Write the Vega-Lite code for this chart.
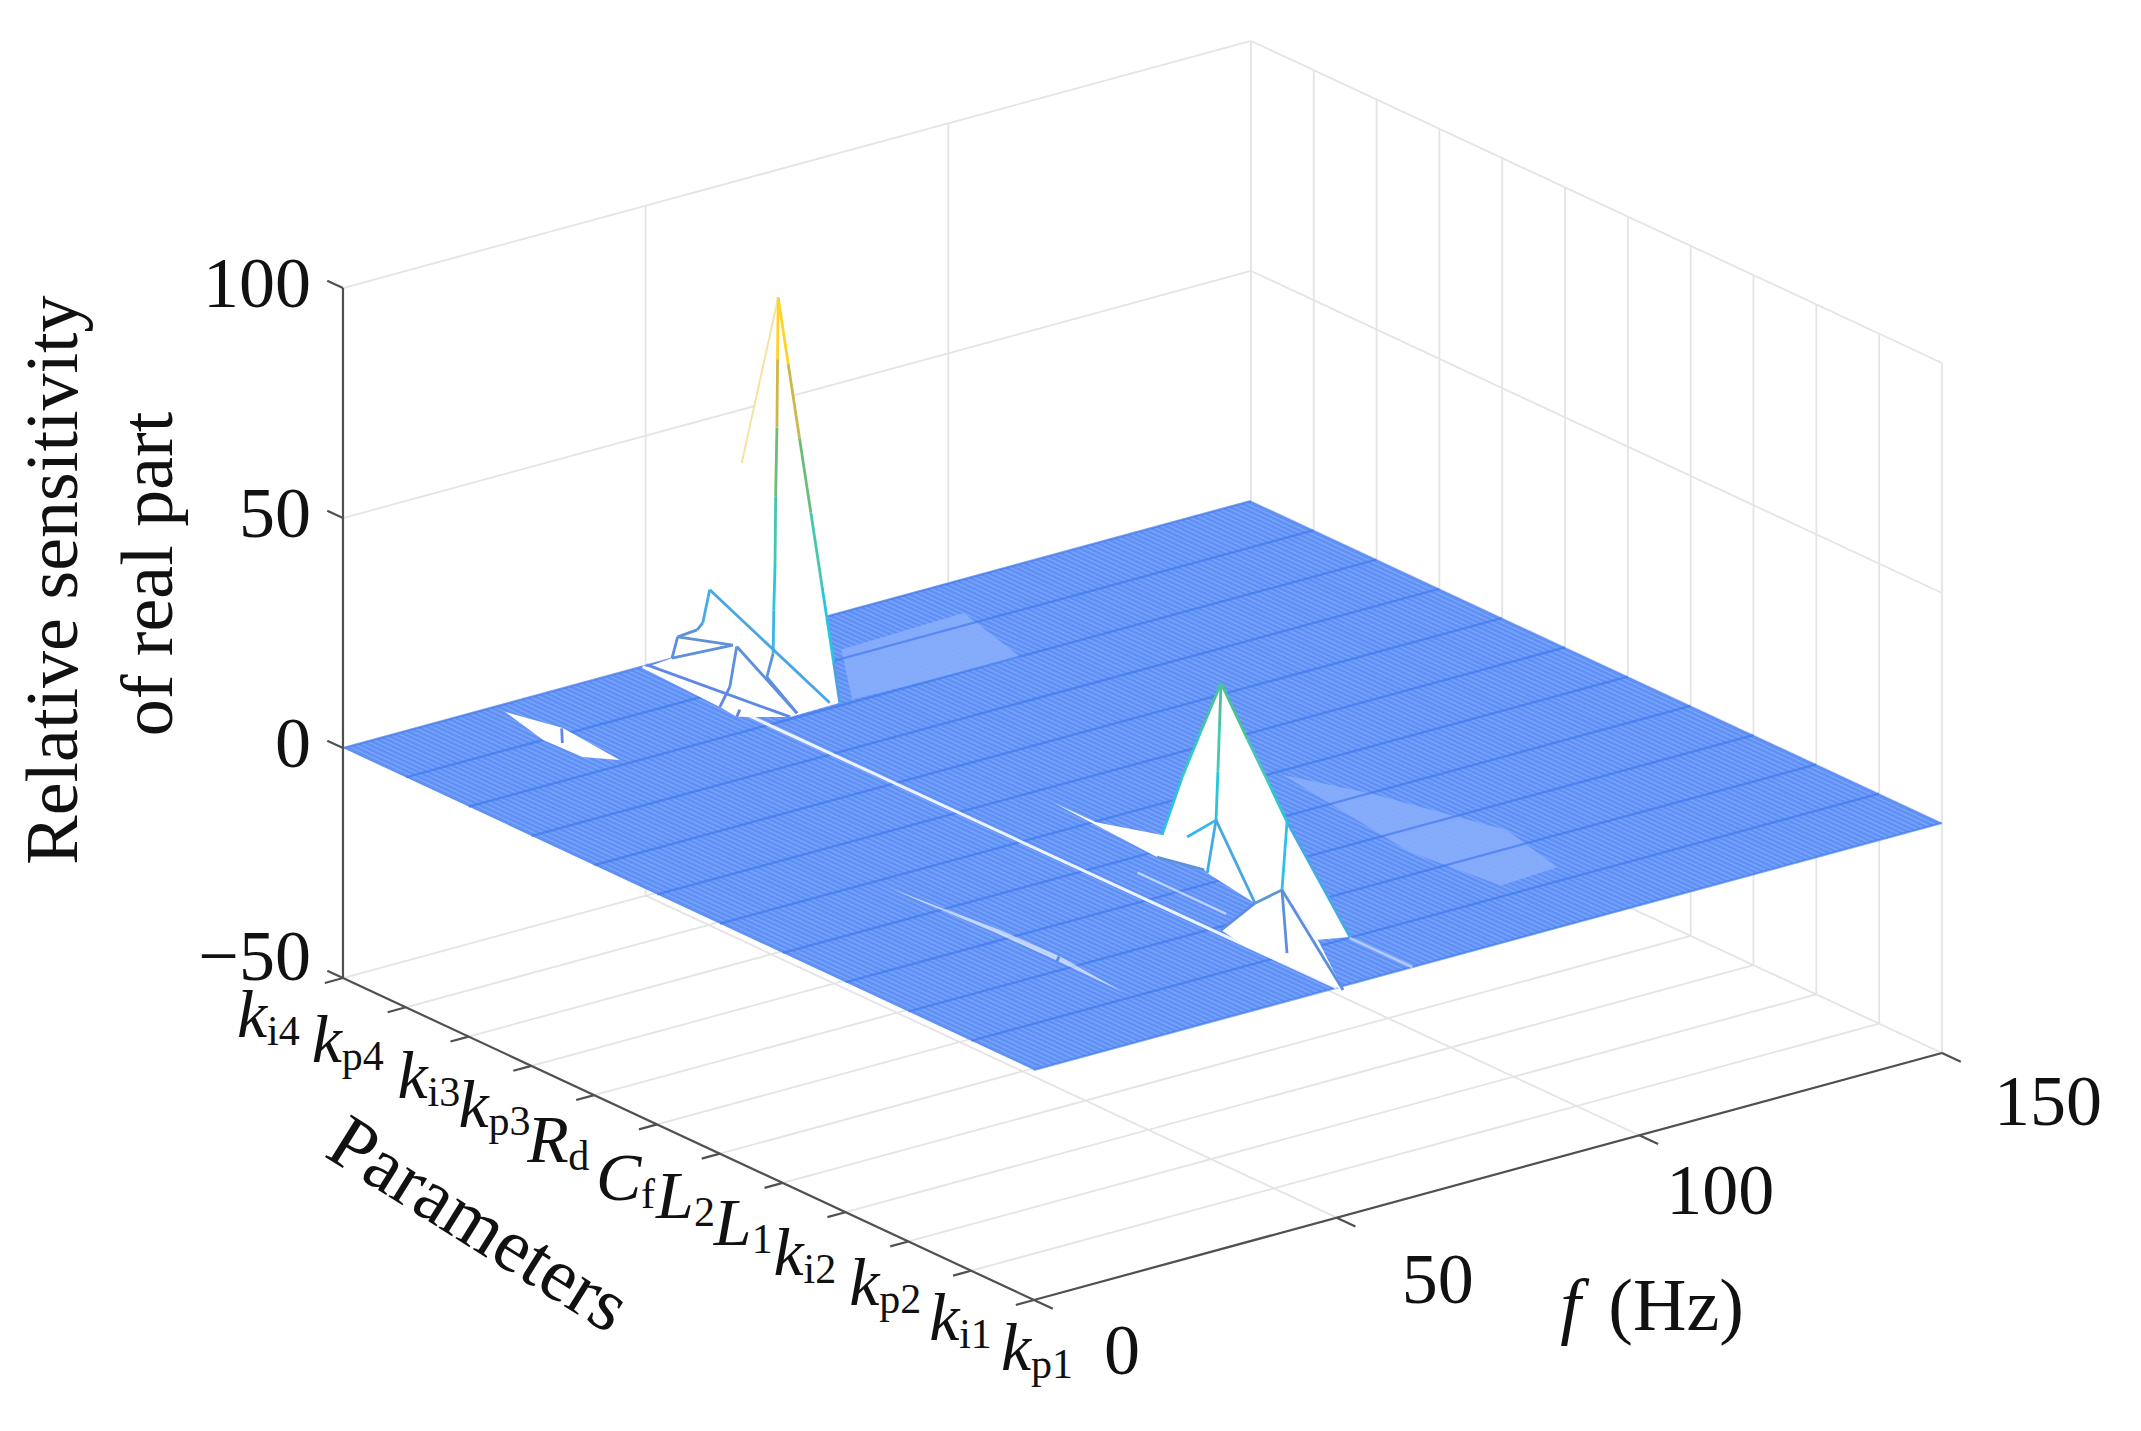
{"$schema":"https://vega.github.io/schema/vega-lite/v6.json","width":2141,"height":1431,"autosize":{"type":"fit","contains":"padding"},"padding":0,"background":"white","config":{"view":{"stroke":null}},
"data":{"values":[
{"s":"g","p":1,"f":0,"z":-50,"p2":1,"f2":150,"z2":-50},{"s":"g","p":2,"f":0,"z":-50,"p2":2,"f2":150,"z2":-50},{"s":"g","p":3,"f":0,"z":-50,"p2":3,"f2":150,"z2":-50},{"s":"g","p":4,"f":0,"z":-50,"p2":4,"f2":150,"z2":-50},{"s":"g","p":5,"f":0,"z":-50,"p2":5,"f2":150,"z2":-50},{"s":"g","p":6,"f":0,"z":-50,"p2":6,"f2":150,"z2":-50},{"s":"g","p":7,"f":0,"z":-50,"p2":7,"f2":150,"z2":-50},{"s":"g","p":8,"f":0,"z":-50,"p2":8,"f2":150,"z2":-50},{"s":"g","p":9,"f":0,"z":-50,"p2":9,"f2":150,"z2":-50},{"s":"g","p":10,"f":0,"z":-50,"p2":10,"f2":150,"z2":-50},{"s":"g","p":11,"f":0,"z":-50,"p2":11,"f2":150,"z2":-50},{"s":"g","p":12,"f":0,"z":-50,"p2":12,"f2":150,"z2":-50},
{"s":"g","p":1,"f":50,"z":-50,"p2":12,"f2":50,"z2":-50},{"s":"g","p":1,"f":100,"z":-50,"p2":12,"f2":100,"z2":-50},{"s":"g","p":1,"f":150,"z":-50,"p2":12,"f2":150,"z2":-50},
{"s":"g","p":12,"f":0,"z":0,"p2":12,"f2":150,"z2":0},{"s":"g","p":12,"f":0,"z":50,"p2":12,"f2":150,"z2":50},{"s":"g","p":12,"f":0,"z":100,"p2":12,"f2":150,"z2":100},
{"s":"g","p":12,"f":50,"z":-50,"p2":12,"f2":50,"z2":100},{"s":"g","p":12,"f":100,"z":-50,"p2":12,"f2":100,"z2":100},{"s":"g","p":12,"f":150,"z":-50,"p2":12,"f2":150,"z2":100},
{"s":"g","p":1,"f":150,"z":0,"p2":12,"f2":150,"z2":0},{"s":"g","p":1,"f":150,"z":50,"p2":12,"f2":150,"z2":50},{"s":"g","p":1,"f":150,"z":100,"p2":12,"f2":150,"z2":100},
{"s":"g","p":1,"f":150,"z":-50,"p2":1,"f2":150,"z2":100},{"s":"g","p":2,"f":150,"z":-50,"p2":2,"f2":150,"z2":100},{"s":"g","p":3,"f":150,"z":-50,"p2":3,"f2":150,"z2":100},{"s":"g","p":4,"f":150,"z":-50,"p2":4,"f2":150,"z2":100},{"s":"g","p":5,"f":150,"z":-50,"p2":5,"f2":150,"z2":100},{"s":"g","p":6,"f":150,"z":-50,"p2":6,"f2":150,"z2":100},{"s":"g","p":7,"f":150,"z":-50,"p2":7,"f2":150,"z2":100},{"s":"g","p":8,"f":150,"z":-50,"p2":8,"f2":150,"z2":100},{"s":"g","p":9,"f":150,"z":-50,"p2":9,"f2":150,"z2":100},{"s":"g","p":10,"f":150,"z":-50,"p2":10,"f2":150,"z2":100},{"s":"g","p":11,"f":150,"z":-50,"p2":11,"f2":150,"z2":100},

{"s":"floor","p":1,"f":0,"z":0},{"s":"floor","p":1,"f":150,"z":0},{"s":"floor","p":12,"f":150,"z":0},{"s":"floor","p":12,"f":0,"z":0},

{"s":"patch","id":"a","p":11.2,"f":74,"z":0},{"s":"patch","id":"a","p":11.27,"f":95,"z":0},{"s":"patch","id":"a","p":9.97,"f":91,"z":0},{"s":"patch","id":"a","p":10.06,"f":64,"z":0},
{"s":"patch","id":"b","p":5.9,"f":92,"z":0},{"s":"patch","id":"b","p":5,"f":97,"z":0},{"s":"patch","id":"b","p":3.4,"f":103,"z":0},{"s":"patch","id":"b","p":2.3,"f":100,"z":0},{"s":"patch","id":"b","p":2.24,"f":90,"z":0},{"s":"patch","id":"b","p":3.5,"f":88,"z":0},

{"s":"h","p":1,"f":1,"z":0,"p2":12,"f2":1,"z2":0},{"s":"h","p":1,"f":2,"z":0,"p2":12,"f2":2,"z2":0},{"s":"h","p":1,"f":3,"z":0,"p2":12,"f2":3,"z2":0},{"s":"h","p":1,"f":4,"z":0,"p2":12,"f2":4,"z2":0},{"s":"h","p":1,"f":5,"z":0,"p2":12,"f2":5,"z2":0},{"s":"h","p":1,"f":6,"z":0,"p2":12,"f2":6,"z2":0},{"s":"h","p":1,"f":7,"z":0,"p2":12,"f2":7,"z2":0},{"s":"h","p":1,"f":8,"z":0,"p2":12,"f2":8,"z2":0},{"s":"h","p":1,"f":9,"z":0,"p2":12,"f2":9,"z2":0},{"s":"h","p":1,"f":10,"z":0,"p2":12,"f2":10,"z2":0},
{"s":"h","p":1,"f":11,"z":0,"p2":12,"f2":11,"z2":0},{"s":"h","p":1,"f":12,"z":0,"p2":12,"f2":12,"z2":0},{"s":"h","p":1,"f":13,"z":0,"p2":12,"f2":13,"z2":0},{"s":"h","p":1,"f":14,"z":0,"p2":12,"f2":14,"z2":0},{"s":"h","p":1,"f":15,"z":0,"p2":12,"f2":15,"z2":0},{"s":"h","p":1,"f":16,"z":0,"p2":12,"f2":16,"z2":0},{"s":"h","p":1,"f":17,"z":0,"p2":12,"f2":17,"z2":0},{"s":"h","p":1,"f":18,"z":0,"p2":12,"f2":18,"z2":0},{"s":"h","p":1,"f":19,"z":0,"p2":12,"f2":19,"z2":0},{"s":"h","p":1,"f":20,"z":0,"p2":12,"f2":20,"z2":0},
{"s":"h","p":1,"f":21,"z":0,"p2":12,"f2":21,"z2":0},{"s":"h","p":1,"f":22,"z":0,"p2":12,"f2":22,"z2":0},{"s":"h","p":1,"f":23,"z":0,"p2":12,"f2":23,"z2":0},{"s":"h","p":1,"f":24,"z":0,"p2":12,"f2":24,"z2":0},{"s":"h","p":1,"f":25,"z":0,"p2":12,"f2":25,"z2":0},{"s":"h","p":1,"f":26,"z":0,"p2":12,"f2":26,"z2":0},{"s":"h","p":1,"f":27,"z":0,"p2":12,"f2":27,"z2":0},{"s":"h","p":1,"f":28,"z":0,"p2":12,"f2":28,"z2":0},{"s":"h","p":1,"f":29,"z":0,"p2":12,"f2":29,"z2":0},{"s":"h","p":1,"f":30,"z":0,"p2":12,"f2":30,"z2":0},
{"s":"h","p":1,"f":31,"z":0,"p2":12,"f2":31,"z2":0},{"s":"h","p":1,"f":32,"z":0,"p2":12,"f2":32,"z2":0},{"s":"h","p":1,"f":33,"z":0,"p2":12,"f2":33,"z2":0},{"s":"h","p":1,"f":34,"z":0,"p2":12,"f2":34,"z2":0},{"s":"h","p":1,"f":35,"z":0,"p2":12,"f2":35,"z2":0},{"s":"h","p":1,"f":36,"z":0,"p2":12,"f2":36,"z2":0},{"s":"h","p":1,"f":37,"z":0,"p2":12,"f2":37,"z2":0},{"s":"h","p":1,"f":38,"z":0,"p2":12,"f2":38,"z2":0},{"s":"h","p":1,"f":39,"z":0,"p2":12,"f2":39,"z2":0},{"s":"h","p":1,"f":40,"z":0,"p2":12,"f2":40,"z2":0},
{"s":"h","p":1,"f":41,"z":0,"p2":12,"f2":41,"z2":0},{"s":"h","p":1,"f":42,"z":0,"p2":12,"f2":42,"z2":0},{"s":"h","p":1,"f":43,"z":0,"p2":12,"f2":43,"z2":0},{"s":"h","p":1,"f":44,"z":0,"p2":12,"f2":44,"z2":0},{"s":"h","p":1,"f":45,"z":0,"p2":12,"f2":45,"z2":0},{"s":"h","p":1,"f":46,"z":0,"p2":12,"f2":46,"z2":0},{"s":"h","p":1,"f":47,"z":0,"p2":12,"f2":47,"z2":0},{"s":"h","p":1,"f":48,"z":0,"p2":12,"f2":48,"z2":0},{"s":"h","p":1,"f":49,"z":0,"p2":12,"f2":49,"z2":0},{"s":"h","p":1,"f":50,"z":0,"p2":12,"f2":50,"z2":0},
{"s":"h","p":1,"f":51,"z":0,"p2":12,"f2":51,"z2":0},{"s":"h","p":1,"f":52,"z":0,"p2":12,"f2":52,"z2":0},{"s":"h","p":1,"f":53,"z":0,"p2":12,"f2":53,"z2":0},{"s":"h","p":1,"f":54,"z":0,"p2":12,"f2":54,"z2":0},{"s":"h","p":1,"f":55,"z":0,"p2":12,"f2":55,"z2":0},{"s":"h","p":1,"f":56,"z":0,"p2":12,"f2":56,"z2":0},{"s":"h","p":1,"f":57,"z":0,"p2":12,"f2":57,"z2":0},{"s":"h","p":1,"f":58,"z":0,"p2":12,"f2":58,"z2":0},{"s":"h","p":1,"f":59,"z":0,"p2":12,"f2":59,"z2":0},{"s":"h","p":1,"f":60,"z":0,"p2":12,"f2":60,"z2":0},
{"s":"h","p":1,"f":61,"z":0,"p2":12,"f2":61,"z2":0},{"s":"h","p":1,"f":62,"z":0,"p2":12,"f2":62,"z2":0},{"s":"h","p":1,"f":63,"z":0,"p2":12,"f2":63,"z2":0},{"s":"h","p":1,"f":64,"z":0,"p2":12,"f2":64,"z2":0},{"s":"h","p":1,"f":65,"z":0,"p2":12,"f2":65,"z2":0},{"s":"h","p":1,"f":66,"z":0,"p2":12,"f2":66,"z2":0},{"s":"h","p":1,"f":67,"z":0,"p2":12,"f2":67,"z2":0},{"s":"h","p":1,"f":68,"z":0,"p2":12,"f2":68,"z2":0},{"s":"h","p":1,"f":69,"z":0,"p2":12,"f2":69,"z2":0},{"s":"h","p":1,"f":70,"z":0,"p2":12,"f2":70,"z2":0},
{"s":"h","p":1,"f":71,"z":0,"p2":12,"f2":71,"z2":0},{"s":"h","p":1,"f":72,"z":0,"p2":12,"f2":72,"z2":0},{"s":"h","p":1,"f":73,"z":0,"p2":12,"f2":73,"z2":0},{"s":"h","p":1,"f":74,"z":0,"p2":12,"f2":74,"z2":0},{"s":"h","p":1,"f":75,"z":0,"p2":12,"f2":75,"z2":0},{"s":"h","p":1,"f":76,"z":0,"p2":12,"f2":76,"z2":0},{"s":"h","p":1,"f":77,"z":0,"p2":12,"f2":77,"z2":0},{"s":"h","p":1,"f":78,"z":0,"p2":12,"f2":78,"z2":0},{"s":"h","p":1,"f":79,"z":0,"p2":12,"f2":79,"z2":0},{"s":"h","p":1,"f":80,"z":0,"p2":12,"f2":80,"z2":0},
{"s":"h","p":1,"f":81,"z":0,"p2":12,"f2":81,"z2":0},{"s":"h","p":1,"f":82,"z":0,"p2":12,"f2":82,"z2":0},{"s":"h","p":1,"f":83,"z":0,"p2":12,"f2":83,"z2":0},{"s":"h","p":1,"f":84,"z":0,"p2":12,"f2":84,"z2":0},{"s":"h","p":1,"f":85,"z":0,"p2":12,"f2":85,"z2":0},{"s":"h","p":1,"f":86,"z":0,"p2":12,"f2":86,"z2":0},{"s":"h","p":1,"f":87,"z":0,"p2":12,"f2":87,"z2":0},{"s":"h","p":1,"f":88,"z":0,"p2":12,"f2":88,"z2":0},{"s":"h","p":1,"f":89,"z":0,"p2":12,"f2":89,"z2":0},{"s":"h","p":1,"f":90,"z":0,"p2":12,"f2":90,"z2":0},
{"s":"h","p":1,"f":91,"z":0,"p2":12,"f2":91,"z2":0},{"s":"h","p":1,"f":92,"z":0,"p2":12,"f2":92,"z2":0},{"s":"h","p":1,"f":93,"z":0,"p2":12,"f2":93,"z2":0},{"s":"h","p":1,"f":94,"z":0,"p2":12,"f2":94,"z2":0},{"s":"h","p":1,"f":95,"z":0,"p2":12,"f2":95,"z2":0},{"s":"h","p":1,"f":96,"z":0,"p2":12,"f2":96,"z2":0},{"s":"h","p":1,"f":97,"z":0,"p2":12,"f2":97,"z2":0},{"s":"h","p":1,"f":98,"z":0,"p2":12,"f2":98,"z2":0},{"s":"h","p":1,"f":99,"z":0,"p2":12,"f2":99,"z2":0},{"s":"h","p":1,"f":100,"z":0,"p2":12,"f2":100,"z2":0},
{"s":"h","p":1,"f":101,"z":0,"p2":12,"f2":101,"z2":0},{"s":"h","p":1,"f":102,"z":0,"p2":12,"f2":102,"z2":0},{"s":"h","p":1,"f":103,"z":0,"p2":12,"f2":103,"z2":0},{"s":"h","p":1,"f":104,"z":0,"p2":12,"f2":104,"z2":0},{"s":"h","p":1,"f":105,"z":0,"p2":12,"f2":105,"z2":0},{"s":"h","p":1,"f":106,"z":0,"p2":12,"f2":106,"z2":0},{"s":"h","p":1,"f":107,"z":0,"p2":12,"f2":107,"z2":0},{"s":"h","p":1,"f":108,"z":0,"p2":12,"f2":108,"z2":0},{"s":"h","p":1,"f":109,"z":0,"p2":12,"f2":109,"z2":0},{"s":"h","p":1,"f":110,"z":0,"p2":12,"f2":110,"z2":0},
{"s":"h","p":1,"f":111,"z":0,"p2":12,"f2":111,"z2":0},{"s":"h","p":1,"f":112,"z":0,"p2":12,"f2":112,"z2":0},{"s":"h","p":1,"f":113,"z":0,"p2":12,"f2":113,"z2":0},{"s":"h","p":1,"f":114,"z":0,"p2":12,"f2":114,"z2":0},{"s":"h","p":1,"f":115,"z":0,"p2":12,"f2":115,"z2":0},{"s":"h","p":1,"f":116,"z":0,"p2":12,"f2":116,"z2":0},{"s":"h","p":1,"f":117,"z":0,"p2":12,"f2":117,"z2":0},{"s":"h","p":1,"f":118,"z":0,"p2":12,"f2":118,"z2":0},{"s":"h","p":1,"f":119,"z":0,"p2":12,"f2":119,"z2":0},{"s":"h","p":1,"f":120,"z":0,"p2":12,"f2":120,"z2":0},
{"s":"h","p":1,"f":121,"z":0,"p2":12,"f2":121,"z2":0},{"s":"h","p":1,"f":122,"z":0,"p2":12,"f2":122,"z2":0},{"s":"h","p":1,"f":123,"z":0,"p2":12,"f2":123,"z2":0},{"s":"h","p":1,"f":124,"z":0,"p2":12,"f2":124,"z2":0},{"s":"h","p":1,"f":125,"z":0,"p2":12,"f2":125,"z2":0},{"s":"h","p":1,"f":126,"z":0,"p2":12,"f2":126,"z2":0},{"s":"h","p":1,"f":127,"z":0,"p2":12,"f2":127,"z2":0},{"s":"h","p":1,"f":128,"z":0,"p2":12,"f2":128,"z2":0},{"s":"h","p":1,"f":129,"z":0,"p2":12,"f2":129,"z2":0},{"s":"h","p":1,"f":130,"z":0,"p2":12,"f2":130,"z2":0},
{"s":"h","p":1,"f":131,"z":0,"p2":12,"f2":131,"z2":0},{"s":"h","p":1,"f":132,"z":0,"p2":12,"f2":132,"z2":0},{"s":"h","p":1,"f":133,"z":0,"p2":12,"f2":133,"z2":0},{"s":"h","p":1,"f":134,"z":0,"p2":12,"f2":134,"z2":0},{"s":"h","p":1,"f":135,"z":0,"p2":12,"f2":135,"z2":0},{"s":"h","p":1,"f":136,"z":0,"p2":12,"f2":136,"z2":0},{"s":"h","p":1,"f":137,"z":0,"p2":12,"f2":137,"z2":0},{"s":"h","p":1,"f":138,"z":0,"p2":12,"f2":138,"z2":0},{"s":"h","p":1,"f":139,"z":0,"p2":12,"f2":139,"z2":0},{"s":"h","p":1,"f":140,"z":0,"p2":12,"f2":140,"z2":0},
{"s":"h","p":1,"f":141,"z":0,"p2":12,"f2":141,"z2":0},{"s":"h","p":1,"f":142,"z":0,"p2":12,"f2":142,"z2":0},{"s":"h","p":1,"f":143,"z":0,"p2":12,"f2":143,"z2":0},{"s":"h","p":1,"f":144,"z":0,"p2":12,"f2":144,"z2":0},{"s":"h","p":1,"f":145,"z":0,"p2":12,"f2":145,"z2":0},{"s":"h","p":1,"f":146,"z":0,"p2":12,"f2":146,"z2":0},{"s":"h","p":1,"f":147,"z":0,"p2":12,"f2":147,"z2":0},{"s":"h","p":1,"f":148,"z":0,"p2":12,"f2":148,"z2":0},{"s":"h","p":1,"f":149,"z":0,"p2":12,"f2":149,"z2":0},

{"s":"m","p":1,"f":0,"z":0,"p2":1,"f2":150,"z2":0},{"s":"m","p":2,"f":0,"z":0,"p2":2,"f2":150,"z2":0},{"s":"m","p":3,"f":0,"z":0,"p2":3,"f2":150,"z2":0},{"s":"m","p":4,"f":0,"z":0,"p2":4,"f2":150,"z2":0},{"s":"m","p":5,"f":0,"z":0,"p2":5,"f2":150,"z2":0},{"s":"m","p":6,"f":0,"z":0,"p2":6,"f2":150,"z2":0},{"s":"m","p":7,"f":0,"z":0,"p2":7,"f2":150,"z2":0},{"s":"m","p":8,"f":0,"z":0,"p2":8,"f2":150,"z2":0},{"s":"m","p":9,"f":0,"z":0,"p2":9,"f2":150,"z2":0},{"s":"m","p":10,"f":0,"z":0,"p2":10,"f2":150,"z2":0},{"s":"m","p":11,"f":0,"z":0,"p2":11,"f2":150,"z2":0},{"s":"m","p":12,"f":0,"z":0,"p2":12,"f2":150,"z2":0},

{"s":"slit","p":12,"f":49.5,"z":0,"p2":1,"f2":50,"z2":0},
{"s":"slit2","p":4.65,"f":55,"z":0,"p2":3.24,"f2":55,"z2":0},{"s":"slit2","p":2,"f":62.5,"z":0,"p2":1,"f2":62.5,"z2":0},

{"s":"w","id":"a","p":9.89,"f":50,"z":93.5},{"s":"w","id":"a","p":10.47,"f":50,"z":53.8},{"s":"w","id":"a","p":10.98,"f":50,"z":23},{"s":"w","id":"a","p":11.09,"f":50,"z":15.1},{"s":"w","id":"a","p":11.18,"f":50,"z":13},{"s":"w","id":"a","p":11.49,"f":50,"z":9.5},{"s":"w","id":"a","p":11.58,"f":50,"z":4.3},{"s":"w","id":"a","p":12.04,"f":50,"z":-0.8},{"s":"w","id":"a","p":10.82,"f":50,"z":-1.5},{"s":"w","id":"a","p":10.55,"f":50,"z":-1.9},{"s":"w","id":"a","p":9.7,"f":50,"z":3.5},{"s":"w","id":"a","p":8.91,"f":50,"z":11.6},
{"s":"w","id":"b","p":2.84,"f":50,"z":54.5},{"s":"w","id":"b","p":3.46,"f":50,"z":30.1},{"s":"w","id":"b","p":3.78,"f":50,"z":15.5},{"s":"w","id":"b","p":4.83,"f":50,"z":11.6},{"s":"w","id":"b","p":5.5,"f":50,"z":11.5},{"s":"w","id":"b","p":3.86,"f":50,"z":10.2},{"s":"w","id":"b","p":3.11,"f":50,"z":12.2},{"s":"w","id":"b","p":3.06,"f":50,"z":11.8},{"s":"w","id":"b","p":2.3,"f":50,"z":10.1},{"s":"w","id":"b","p":1.87,"f":50,"z":15.7},{"s":"w","id":"b","p":1.3,"f":50,"z":8.5},{"s":"w","id":"b","p":1.56,"f":58,"z":4.6},{"s":"w","id":"b","p":1.79,"f":50,"z":31},
{"s":"w","id":"c","p":2.3,"f":50,"z":10.1},{"s":"w","id":"c","p":1.87,"f":50,"z":15.7},{"s":"w","id":"c","p":1.3,"f":50,"z":8.5},{"s":"w","id":"c","p":1.09,"f":52,"z":-1.8},{"s":"w","id":"c","p":1.07,"f":50,"z":0.1},{"s":"w","id":"c","p":2.44,"f":50,"z":-0.3},{"s":"w","id":"c","p":2.84,"f":50,"z":0.8},
{"s":"w","id":"d","p":11.83,"f":25,"z":0},{"s":"w","id":"d","p":11.14,"f":27.4,"z":0},{"s":"w","id":"d","p":10.12,"f":26.2,"z":0},{"s":"w","id":"d","p":10.4,"f":23,"z":0},{"s":"w","id":"d","p":11,"f":22.7,"z":0},
{"s":"w2","id":"e","p":5.81,"f":25.6,"z":0},{"s":"w2","id":"e","p":4.22,"f":27.8,"z":0},{"s":"w2","id":"e","p":3.28,"f":28.1,"z":0},{"s":"w2","id":"e","p":2.13,"f":26.7,"z":0},{"s":"w2","id":"e","p":3.28,"f":26.9,"z":0},{"s":"w2","id":"e","p":4.22,"f":26.7,"z":0},

{"s":"edge","p":9.89,"f":50,"z":93.5,"p2":9.9,"f2":50,"z2":80},{"s":"edge","p":9.9,"f":50,"z":80,"p2":9.91,"f2":50,"z2":65},{"s":"edge","p":9.91,"f":50,"z":65,"p2":9.93,"f2":50,"z2":50},{"s":"edge","p":9.93,"f":50,"z":50,"p2":9.94,"f2":50,"z2":35},{"s":"edge","p":9.94,"f":50,"z":35,"p2":9.96,"f2":50,"z2":25},{"s":"edge","p":9.96,"f":50,"z":25,"p2":9.97,"f2":50,"z2":15.6},
{"s":"edge","p":9.89,"f":50,"z":93.5,"p2":9.73,"f2":50,"z2":80},{"s":"edge","p":9.73,"f":50,"z":80,"p2":9.55,"f2":50,"z2":65},{"s":"edge","p":9.55,"f":50,"z":65,"p2":9.37,"f2":50,"z2":50},{"s":"edge","p":9.37,"f":50,"z":50,"p2":9.19,"f2":50,"z2":35},{"s":"edge","p":9.19,"f":50,"z":35,"p2":9.01,"f2":50,"z2":20},{"s":"edge","p":9.01,"f":50,"z":20,"p2":8.91,"f2":50,"z2":11.6},
{"s":"edge","p":9.07,"f":50,"z":10.6,"p2":10.98,"f2":50,"z2":23},{"s":"edge","p":10.98,"f":50,"z":23,"p2":11.09,"f2":50,"z2":15.1},{"s":"edge","p":11.09,"f":50,"z":15.1,"p2":11.18,"f2":50,"z2":13},{"s":"edge","p":11.18,"f":50,"z":13,"p2":11.49,"f2":50,"z2":9.5},{"s":"edge","p":11.49,"f":50,"z":9.5,"p2":11.58,"f2":50,"z2":4.3},{"s":"edge","p":11.49,"f":50,"z":9.5,"p2":10.61,"f2":50,"z2":13.3},{"s":"edge","p":11.58,"f":50,"z":4.3,"p2":10.61,"f2":50,"z2":13.3},{"s":"edge","p":10.55,"f":50,"z":13.4,"p2":10.66,"f2":50,"z2":3.9},{"s":"edge","p":10.66,"f":50,"z":3.9,"p2":10.82,"f2":50,"z2":-1.5},{"s":"edge","p":10.55,"f":50,"z":13.4,"p2":9.59,"f2":50,"z2":5},{"s":"edge","p":9.97,"f":50,"z":15.6,"p2":10.07,"f2":50,"z2":9.8},{"s":"edge","p":10.07,"f":50,"z":9.8,"p2":9.59,"f2":50,"z2":5},{"s":"edge","p":11.98,"f":50,"z":0.3,"p2":9.7,"f2":50,"z2":3.5},{"s":"edge","p":10.55,"f":50,"z":-1.9,"p2":10.5,"f2":50,"z2":0},
{"s":"edge","p":2.84,"f":50,"z":54.5,"p2":2.865,"f2":50,"z2":45},{"s":"edge","p":2.865,"f":50,"z":45,"p2":2.89,"f2":50,"z2":35},{"s":"edge","p":2.89,"f":50,"z":35,"p2":2.92,"f2":50,"z2":24.2},{"s":"edge","p":2.92,"f":50,"z":24.2,"p2":3.06,"f2":50,"z2":11.8},
{"s":"edge","p":2.84,"f":50,"z":54.5,"p2":3.16,"f2":50,"z2":42},{"s":"edge","p":3.16,"f":50,"z":42,"p2":3.46,"f2":50,"z2":30.1},{"s":"edge","p":3.46,"f":50,"z":30.1,"p2":3.78,"f2":50,"z2":15.5},
{"s":"edge","p":2.84,"f":50,"z":54.5,"p2":2.42,"f2":50,"z2":45},{"s":"edge","p":2.42,"f":50,"z":45,"p2":2.1,"f2":50,"z2":38},{"s":"edge","p":2.1,"f":50,"z":38,"p2":1.79,"f2":50,"z2":31},{"s":"edge","p":1.79,"f":50,"z":31,"p2":1.56,"f2":58,"z2":4.6},
{"s":"edge","p":2.92,"f":50,"z":24.2,"p2":3.38,"f2":50,"z2":17.6},{"s":"edge","p":2.92,"f":50,"z":24.2,"p2":2.3,"f2":50,"z2":10.1},{"s":"edge","p":1.79,"f":50,"z":31,"p2":1.87,"f2":50,"z2":15.7},{"s":"edge","p":1.87,"f":50,"z":15.7,"p2":1.79,"f2":50,"z2":2.5},{"s":"edge","p":1.87,"f":50,"z":15.7,"p2":2.3,"f2":50,"z2":10.1},{"s":"edge","p":2.3,"f":50,"z":10.1,"p2":2.84,"f2":50,"z2":0.8},{"s":"edge","p":1.87,"f":50,"z":15.7,"p2":1.09,"f2":52,"z2":-1.8},{"s":"edge","p":3.11,"f":50,"z":12.2,"p2":3.86,"f2":50,"z2":10.2},
{"s":"edge","p":11.14,"f":27.2,"z":0,"p2":10.82,"f2":24,"z2":0},{"s":"edge","p":3.3,"f":28,"z":0,"p2":3.2,"f2":26.6,"z2":0},

{"s":"fade","p":9.89,"f":50,"z":93.5,"p2":10.16,"f2":50,"z2":75},{"s":"fade","p":10.16,"f":50,"z":75,"p2":10.38,"f2":50,"z2":60},{"s":"fade","p":10.38,"f":50,"z":60,"p2":10.47,"f2":50,"z2":53.8},

{"s":"a","p":12,"f":0,"z":-50,"p2":12,"f2":0,"z2":100},{"s":"a","p":12,"f":0,"z":-50,"p2":1,"f2":0,"z2":-50},{"s":"a","p":1,"f":0,"z":-50,"p2":1,"f2":150,"z2":-50},
{"s":"a","p":12,"f":0,"z":-50,"p2":12.25,"f2":0,"z2":-50},{"s":"a","p":12,"f":0,"z":0,"p2":12.25,"f2":0,"z2":0},{"s":"a","p":12,"f":0,"z":50,"p2":12.25,"f2":0,"z2":50},{"s":"a","p":12,"f":0,"z":100,"p2":12.25,"f2":0,"z2":100},
{"s":"a","p":1,"f":0,"z":-50,"p2":1,"f2":-3,"z2":-50},{"s":"a","p":2,"f":0,"z":-50,"p2":2,"f2":-3,"z2":-50},{"s":"a","p":3,"f":0,"z":-50,"p2":3,"f2":-3,"z2":-50},{"s":"a","p":4,"f":0,"z":-50,"p2":4,"f2":-3,"z2":-50},{"s":"a","p":5,"f":0,"z":-50,"p2":5,"f2":-3,"z2":-50},{"s":"a","p":6,"f":0,"z":-50,"p2":6,"f2":-3,"z2":-50},{"s":"a","p":7,"f":0,"z":-50,"p2":7,"f2":-3,"z2":-50},{"s":"a","p":8,"f":0,"z":-50,"p2":8,"f2":-3,"z2":-50},{"s":"a","p":9,"f":0,"z":-50,"p2":9,"f2":-3,"z2":-50},{"s":"a","p":10,"f":0,"z":-50,"p2":10,"f2":-3,"z2":-50},{"s":"a","p":11,"f":0,"z":-50,"p2":11,"f2":-3,"z2":-50},{"s":"a","p":12,"f":0,"z":-50,"p2":12,"f2":-3,"z2":-50},
{"s":"a","p":1,"f":0,"z":-50,"p2":0.7,"f2":0,"z2":-50},{"s":"a","p":1,"f":50,"z":-50,"p2":0.7,"f2":50,"z2":-50},{"s":"a","p":1,"f":100,"z":-50,"p2":0.7,"f2":100,"z2":-50},{"s":"a","p":1,"f":150,"z":-50,"p2":0.7,"f2":150,"z2":-50},

{"s":"zt","p":12,"f":0,"z":100,"label":"100"},{"s":"zt","p":12,"f":0,"z":50,"label":"50"},{"s":"zt","p":12,"f":0,"z":0,"label":"0"},{"s":"zt","p":12,"f":0,"z":-50,"label":"−50"},
{"s":"ft","p":1,"f":0,"z":-50,"label":"0"},{"s":"ft","p":1,"f":50,"z":-50,"label":"50"},{"s":"ft","p":1,"f":100,"z":-50,"label":"100"},{"s":"ft","p":1,"f":150,"z":-50,"label":"150"},
{"s":"param","p":12,"f":0,"z":-50,"main":"k","sub":"i4"},{"s":"param","p":11,"f":0,"z":-50,"main":"k","sub":"p4"},{"s":"param","p":10,"f":0,"z":-50,"main":"k","sub":"i3"},{"s":"param","p":9,"f":0,"z":-50,"main":"k","sub":"p3"},{"s":"param","p":8,"f":0,"z":-50,"main":"R","sub":"d"},{"s":"param","p":7,"f":0,"z":-50,"main":"C","sub":"f"},{"s":"param","p":6,"f":0,"z":-50,"main":"L","sub":"2"},{"s":"param","p":5,"f":0,"z":-50,"main":"L","sub":"1"},{"s":"param","p":4,"f":0,"z":-50,"main":"k","sub":"i2"},{"s":"param","p":3,"f":0,"z":-50,"main":"k","sub":"p2"},{"s":"param","p":2,"f":0,"z":-50,"main":"k","sub":"i1"},{"s":"param","p":1,"f":0,"z":-50,"main":"k","sub":"p1"},
{"s":"ztitle","p":12,"f":0,"z":25,"label":"Relative sensitivity"},{"s":"ztitle","p":12,"f":0,"z":25,"label":"of real part"},
{"s":"ptitle","p":7,"f":0,"z":-50,"label":"Parameters"},
{"s":"fi","p":1,"f":100,"z":-50,"label":"f"},{"s":"hz","p":1,"f":100,"z":-50,"label":"(Hz)"}
]},
"transform":[
{"window":[{"op":"row_number","as":"i"}]},
{"calculate":"1034-62.82*(datum.p-1)+6.053*datum.f","as":"sx"},
{"calculate":"1300-29.27*(datum.p-1)-1.647*datum.f-4.6*(datum.z+50)","as":"sy"},
{"calculate":"1034-62.82*(datum.p2-1)+6.053*datum.f2","as":"sx2"},
{"calculate":"1300-29.27*(datum.p2-1)-1.647*datum.f2-4.6*(datum.z2+50)","as":"sy2"}
],
"encoding":{
"x":{"field":"sx","type":"quantitative","axis":null,"scale":{"domain":[0,2141],"nice":false,"zero":false}},
"y":{"field":"sy","type":"quantitative","axis":null,"scale":{"domain":[1431,0],"nice":false,"zero":false}}
},
"layer":[
{"transform":[{"filter":"datum.s=='g'"}],"mark":{"type":"rule","color":"#e4e4e4","strokeWidth":1.8},"encoding":{"x2":{"field":"sx2"},"y2":{"field":"sy2"}}},
{"transform":[{"filter":"datum.s=='floor'"}],"mark":{"type":"line","filled":true,"color":"#5e90f6"},"encoding":{"order":{"field":"i","type":"quantitative"}}},
{"transform":[{"filter":"datum.s=='patch'"}],"mark":{"type":"line","filled":true,"color":"#84aafa"},"encoding":{"detail":{"field":"id"},"order":{"field":"i","type":"quantitative"}}},
{"transform":[{"filter":"datum.s=='h'"}],"mark":{"type":"rule","color":"#88aefc","strokeWidth":1.5,"opacity":0.65},"encoding":{"x2":{"field":"sx2"},"y2":{"field":"sy2"}}},
{"transform":[{"filter":"datum.s=='m'"}],"mark":{"type":"rule","color":"#3c76ee","strokeWidth":2.2,"opacity":0.65},"encoding":{"x2":{"field":"sx2"},"y2":{"field":"sy2"}}},
{"transform":[{"filter":"datum.s=='slit'"}],"mark":{"type":"rule","color":"#eef4ff","strokeWidth":3},"encoding":{"x2":{"field":"sx2"},"y2":{"field":"sy2"}}},
{"transform":[{"filter":"datum.s=='slit2'"}],"mark":{"type":"rule","color":"#eef4ff","strokeWidth":2.5,"opacity":0.6},"encoding":{"x2":{"field":"sx2"},"y2":{"field":"sy2"}}},
{"transform":[{"filter":"datum.s=='w'"}],"mark":{"type":"line","filled":true,"color":"#ffffff"},"encoding":{"detail":{"field":"id"},"order":{"field":"i","type":"quantitative"}}},
{"transform":[{"filter":"datum.s=='w2'"}],"mark":{"type":"line","filled":true,"color":"#ffffff","opacity":0.6},"encoding":{"detail":{"field":"id"},"order":{"field":"i","type":"quantitative"}}},
{"transform":[{"filter":"datum.s=='edge'"},{"calculate":"(datum.z+datum.z2)/2","as":"zm"}],"mark":{"type":"rule","strokeWidth":2.8},"encoding":{"x2":{"field":"sx2"},"y2":{"field":"sy2"},"color":{"field":"zm","type":"quantitative","legend":null,"scale":{"domain":[0,12,25,40,55,65,80,92],"range":["#5f86e8","#5f92d8","#2fc4e8","#45c8b8","#55bd85","#a8b860","#f8b040","#ffee00"]}}}},
{"transform":[{"filter":"datum.s=='fade'"}],"mark":{"type":"rule","color":"#f0d878","strokeWidth":2,"opacity":0.7},"encoding":{"x2":{"field":"sx2"},"y2":{"field":"sy2"}}},
{"transform":[{"filter":"datum.s=='a'"}],"mark":{"type":"rule","color":"#505050","strokeWidth":2.2},"encoding":{"x2":{"field":"sx2"},"y2":{"field":"sy2"}}},
{"transform":[{"filter":"datum.s=='zt'"},{"calculate":"datum.sx-32","as":"tx"},{"calculate":"datum.sy+(datum.z==-50?-20:-3)","as":"ty"}],"mark":{"type":"text","font":"Liberation Serif","fontSize":72,"align":"right","baseline":"middle","color":"#111111"},"encoding":{"x":{"field":"tx","type":"quantitative"},"y":{"field":"ty","type":"quantitative"},"text":{"field":"label"}}},
{"transform":[{"filter":"datum.s=='ft'"},{"calculate":"datum.sx+{'0':88,'50':101,'100':81,'150':106}[datum.label]","as":"tx"},{"calculate":"datum.sy+{'0':52,'50':63,'100':57,'150':50}[datum.label]","as":"ty"}],"mark":{"type":"text","font":"Liberation Serif","fontSize":72,"align":"center","baseline":"middle","color":"#111111"},"encoding":{"x":{"field":"tx","type":"quantitative"},"y":{"field":"ty","type":"quantitative"},"text":{"field":"label"}}},
{"transform":[{"filter":"datum.s=='param'"},{"calculate":"datum.sx+[-33,-42,-59,-72,-69,-64,-61,-67,-73,-71,-94,-106][datum.p-1]","as":"tx"},{"calculate":"datum.sy+[70,69,64,63,62,64,76,67,61,61,55,59][datum.p-1]","as":"ty"}],"mark":{"type":"text","font":"Liberation Serif","fontStyle":"italic","fontSize":68,"align":"left","baseline":"alphabetic","color":"#111111"},"encoding":{"x":{"field":"tx","type":"quantitative"},"y":{"field":"ty","type":"quantitative"},"text":{"field":"main"}}},
{"transform":[{"filter":"datum.s=='param'"},{"calculate":"datum.sx+[-33,-42,-59,-72,-69,-64,-61,-67,-73,-71,-94,-106][datum.p-1]+{'k':30,'R':41,'C':45,'L':38}[datum.main]","as":"tx"},{"calculate":"datum.sy+[70,69,64,63,62,64,76,67,61,61,55,59][datum.p-1]+8","as":"ty"}],"mark":{"type":"text","font":"Liberation Serif","fontSize":42,"align":"left","baseline":"alphabetic","color":"#111111"},"encoding":{"x":{"field":"tx","type":"quantitative"},"y":{"field":"ty","type":"quantitative"},"text":{"field":"sub"}}},
{"transform":[{"filter":"datum.s=='ztitle'"},{"calculate":"datum.sx+(datum.label=='of real part'?-193:-288)","as":"tx"},{"calculate":"datum.sy+(datum.label=='of real part'?-59:-53)","as":"ty"}],"mark":{"type":"text","font":"Liberation Serif","fontSize":74,"angle":270,"align":"center","baseline":"middle","color":"#111111"},"encoding":{"x":{"field":"tx","type":"quantitative"},"y":{"field":"ty","type":"quantitative"},"text":{"field":"label"}}},
{"transform":[{"filter":"datum.s=='ptitle'"},{"calculate":"datum.sx-179","as":"tx"},{"calculate":"datum.sy+101","as":"ty"}],"mark":{"type":"text","font":"Liberation Serif","fontSize":76,"angle":32,"align":"center","baseline":"middle","color":"#111111"},"encoding":{"x":{"field":"tx","type":"quantitative"},"y":{"field":"ty","type":"quantitative"},"text":{"field":"label"}}},
{"transform":[{"filter":"datum.s=='fi'"},{"calculate":"datum.sx-79","as":"tx"},{"calculate":"datum.sy+173","as":"ty"}],"mark":{"type":"text","font":"Liberation Serif","fontStyle":"italic","fontSize":74,"align":"left","baseline":"middle","color":"#111111"},"encoding":{"x":{"field":"tx","type":"quantitative"},"y":{"field":"ty","type":"quantitative"},"text":{"field":"label"}}},
{"transform":[{"filter":"datum.s=='hz'"},{"calculate":"datum.sx-31","as":"tx"},{"calculate":"datum.sy+173","as":"ty"}],"mark":{"type":"text","font":"Liberation Serif","fontSize":74,"align":"left","baseline":"middle","color":"#111111"},"encoding":{"x":{"field":"tx","type":"quantitative"},"y":{"field":"ty","type":"quantitative"},"text":{"field":"label"}}}
]}
